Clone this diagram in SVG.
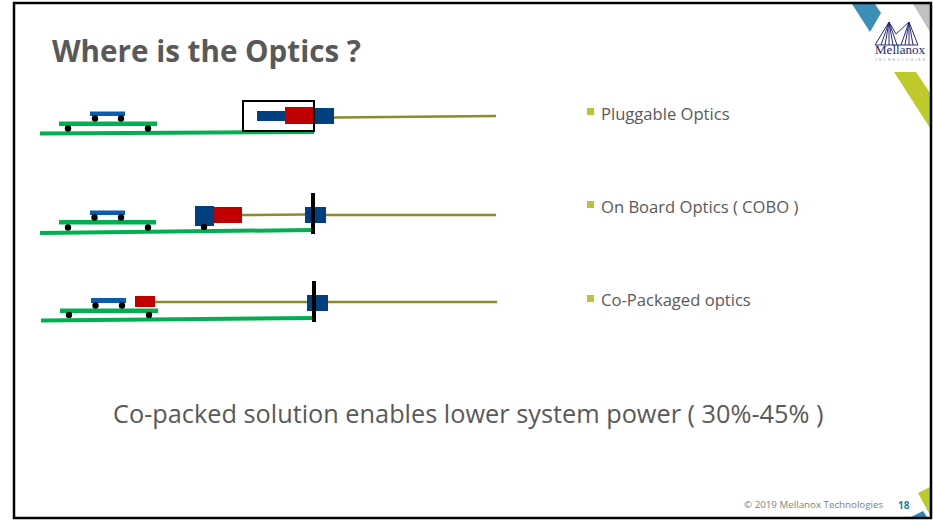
<svg xmlns="http://www.w3.org/2000/svg" width="933" height="520" viewBox="0 0 933 520">
<style>
text{font-family:"Open Sans","Noto Sans",sans-serif;fill:#595959}
.g{stroke:#00b050;stroke-width:4;fill:none}
.b{fill:#0b5cad}
.n{fill:#004080}
.r{fill:#c00000}
.o{stroke:#8a8c2a;stroke-width:2.5;fill:none}
.k{fill:#000}
.bul{fill:#b9c42e}
.lbl{font-size:16.600px}
</style>
<rect width="933" height="520" fill="#fff"/>
<g id="decor">
<polygon points="852,4 875,4 881,13 870,32" fill="#3b8fb5"/>
<polygon points="913,4 930,4 930,32" fill="#bfc1c3"/>
<polygon points="894,72 916,72 930,93 930,128" fill="#bfc92a"/>
<polygon points="918,493 930,487 930,515" fill="#bfc92a"/>
<polygon points="911,517 923,511 927,517" fill="#2f86b0"/>
</g>
<g id="frame"><rect x="14" y="3" width="917" height="515" fill="none" stroke="#000" stroke-width="2.500"/></g>
<g id="logo">
<path d="M875 45 L889 22 L896 34 L909 22 L918 45 M875 45 H918 M889 22 V45 M909 22 V45 M889 22 L881 45 M889 22 L885 45 M889 22 L893 45 M889 22 L897 45 M909 22 L901 45 M909 22 L905 45 M909 22 L913 45" fill="none" stroke="#2a2a7a" stroke-width="1"/>
<text x="875" y="54" textLength="50" lengthAdjust="spacingAndGlyphs" style="font-family:'Liberation Serif',serif;font-size:12.500px;fill:#26266e">Mellanox</text>
<text x="875" y="60.500" textLength="50" style="font-family:'Liberation Sans',sans-serif;font-size:3.500px;fill:#9a9a9a">TECHNOLOGIES</text>
</g>
<text id="title" x="52" y="61.500" style="font-size:29.600px;font-weight:700">Where is the Optics ?</text>
<g id="connectors">
<line class="o" x1="334" y1="117.5" x2="496" y2="116"/>
<line class="o" x1="242" y1="215" x2="305" y2="214.5"/>
<line class="o" x1="326" y1="215" x2="496" y2="215"/>
<line class="o" x1="155" y1="302" x2="307" y2="302"/>
<line class="o" x1="328" y1="302" x2="497" y2="302"/>
</g>
<g id="row1">
<line class="g" x1="40" y1="133.5" x2="314" y2="132"/>
<rect x="59" y="121.5" width="98" height="4.5" fill="#00b050"/>
<rect class="b" x="90" y="111.5" width="35" height="4.5"/>
<circle class="k" cx="95" cy="118.5" r="3.200"/><circle class="k" cx="121" cy="118.5" r="3.200"/>
<circle class="k" cx="68" cy="128.5" r="3.200"/><circle class="k" cx="148" cy="128.5" r="3.200"/>
<rect class="n" x="257" y="111" width="28" height="10"/>
<rect class="n" x="313" y="108" width="21" height="16"/>
<rect class="r" x="285" y="107" width="28" height="17"/>
<rect x="243" y="101" width="71" height="30" fill="none" stroke="#000" stroke-width="2"/>
</g>
<g id="row2">
<line class="g" x1="40" y1="233" x2="312" y2="230"/>
<rect x="59" y="220" width="97" height="4.5" fill="#00b050"/>
<rect class="b" x="90" y="210.5" width="35" height="4.5"/>
<circle class="k" cx="94.500" cy="217.500" r="3.200"/><circle class="k" cx="121" cy="217.500" r="3.200"/>
<circle class="k" cx="68" cy="227.500" r="3.200"/><circle class="k" cx="148" cy="227.500" r="3.200"/>
<rect class="n" x="195" y="206" width="19" height="20"/>
<circle class="k" cx="204" cy="227" r="3.200"/>
<rect class="r" x="214" y="207" width="28" height="16"/>
<rect class="n" x="305" y="207" width="21" height="16"/>
<rect class="k" x="311" y="193" width="4" height="41"/>
</g>
<g id="row3">
<line class="g" x1="41" y1="320.5" x2="313" y2="318"/>
<rect x="60" y="308.500" width="98" height="4.500" fill="#00b050"/>
<rect class="b" x="91" y="298" width="35" height="5"/>
<circle class="k" cx="95.500" cy="305.500" r="3.200"/><circle class="k" cx="122" cy="305.500" r="3.200"/>
<circle class="k" cx="69" cy="315" r="3.200"/><circle class="k" cx="149" cy="315" r="3.200"/>
<rect class="r" x="135" y="296" width="20" height="11"/>
<rect class="n" x="307" y="295" width="21" height="16"/>
<rect class="k" x="312" y="281" width="4" height="41"/>
</g>
<g id="bullets">
<rect class="bul" x="587" y="108" width="7" height="7"/>
<text class="lbl" x="601" y="119.500">Pluggable Optics</text>
<rect class="bul" x="587" y="201" width="7" height="7"/>
<text class="lbl" x="601" y="212.500">On Board Optics ( COBO )</text>
<rect class="bul" x="587" y="295" width="7" height="7"/>
<text class="lbl" x="601" y="306">Co-Packaged optics</text>
</g>
<text id="summary" x="113" y="423" style="font-size:25.300px">Co-packed solution enables lower system power ( 30%-45% )</text>
<g id="footer">
<text x="744" y="508" style="font-size:9.750px;fill:#7f7f7f">© 2019 Mellanox Technologies</text>
<text x="898" y="509" style="font-size:10px;font-weight:700;fill:#1f7fa8">18</text>
</g>
</svg>
